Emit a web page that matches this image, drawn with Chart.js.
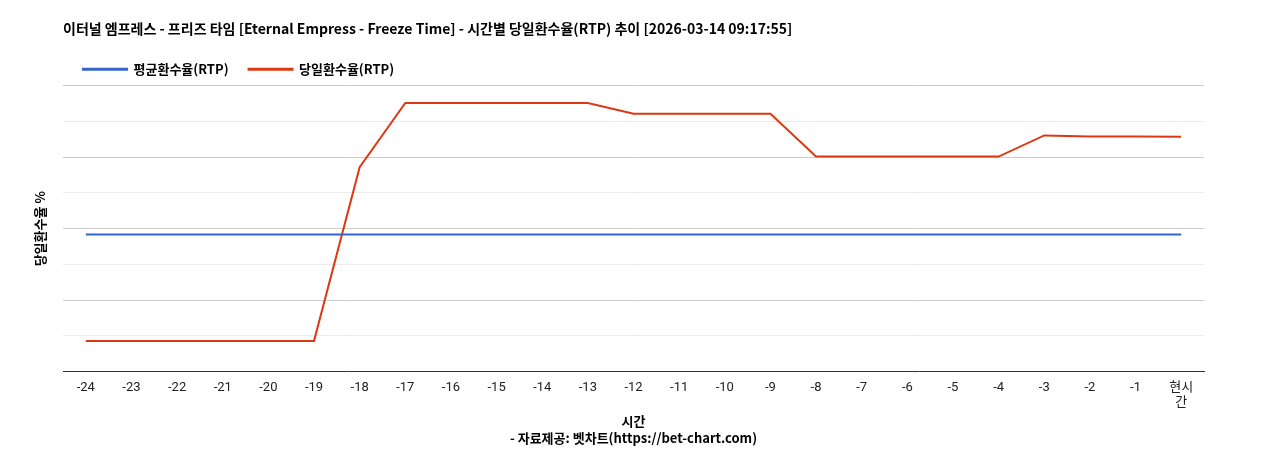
<!DOCTYPE html>
<html><head><meta charset="utf-8">
<script src="https://cdn.jsdelivr.net/npm/chart.js@4/dist/chart.umd.min.js"></script>
<style>html,body{margin:0;background:#fff}#w{width:1268px;height:450px}</style>
</head><body><div id="w"><canvas id="c"></canvas></div>
<script>
const categories = ['-24','-23','-22','-21','-20','-19','-18','-17','-16','-15','-14','-13','-12','-11','-10','-9','-8','-7','-6','-5','-4','-3','-2','-1',['현시','간']];
const avgRtp = [96,96,96,96,96,96,96,96,96,96,96,96,96,96,96,96,96,96,96,96,96,96,96,96,96];
const dailyRtp = [21.5,21.5,21.5,21.5,21.5,21.5,143,188,188,188,188,188,180.5,180.5,180.5,180.5,150.5,150.5,150.5,150.5,150.5,165.3,164.6,164.6,164.3];
const F = '"Noto Sans CJK KR", "Noto Sans", sans-serif';
const T = 'Roboto, "Noto Sans CJK KR", sans-serif';
const yTitle = { id: 'yTitle', afterDraw(ch) {
  const c = ch.ctx, a = ch.chartArea;
  c.save(); c.translate(40, (a.top + a.bottom) / 2); c.rotate(-Math.PI / 2);
  c.font = 'bold 13px ' + F; c.fillStyle = '#000'; c.textAlign = 'center'; c.textBaseline = 'middle';
  c.fillText('당일환수율 %', 0, 0); c.restore();
}};
new Chart(document.getElementById('c'), {
  type: 'line',
  data: { labels: categories, datasets: [
    { label: '평균환수율(RTP)', data: avgRtp, borderColor: '#3366cc', backgroundColor: '#3366cc', borderWidth: 2, pointRadius: 0, tension: 0 },
    { label: '당일환수율(RTP)', data: dailyRtp, borderColor: '#dc3912', backgroundColor: '#dc3912', borderWidth: 2, pointRadius: 0, tension: 0 }
  ]},
  plugins: [yTitle],
  options: {
    responsive: true, maintainAspectRatio: false, animation: false,
    layout: { padding: { left: 63, right: 64, top: 12, bottom: 4 } },
    plugins: {
      title: { display: true, align: 'start', text: '이터널 엠프레스 - 프리즈 타임 [Eternal Empress - Freeze Time] - 시간별 당일환수율(RTP) 추이 [2026-03-14 09:17:55]', color: '#000', font: { family: F, size: 14, weight: 'bold' }, padding: { top: 8, bottom: 6 } },
      subtitle: { display: true, position: 'bottom', text: '- 자료제공: 벳차트(https://bet-chart.com)', color: '#000', font: { family: F, size: 13, weight: 'bold' }, padding: { top: 0, bottom: 0 } },
      legend: { align: 'start', labels: { color: '#000', font: { family: F, size: 13, weight: 'bold' }, boxWidth: 44, boxHeight: 1, padding: 20 } },
      tooltip: { enabled: false }
    },
    scales: {
      x: { offset: true, grid: { display: false }, border: { color: '#333' },
        ticks: { color: '#222', font: { family: T, size: 13 }, maxRotation: 0, autoSkip: false, padding: 0 },
        title: { display: true, text: '시간', color: '#000', font: { family: F, size: 13, weight: 'bold' }, padding: { top: 2, bottom: 2 } } },
      y: { min: 0, max: 200, border: { display: false }, afterFit: s => { s.width = 0; },
        ticks: { stepSize: 25, color: '#222', font: { family: T, size: 13 }, padding: 8, callback: v => v % 50 === 0 ? v : '' },
        grid: { color: c => (c.tick && c.tick.value % 50 === 0) ? '#cccccc' : '#ebebeb', drawTicks: false } }
    }
  }
});
</script></body></html>
